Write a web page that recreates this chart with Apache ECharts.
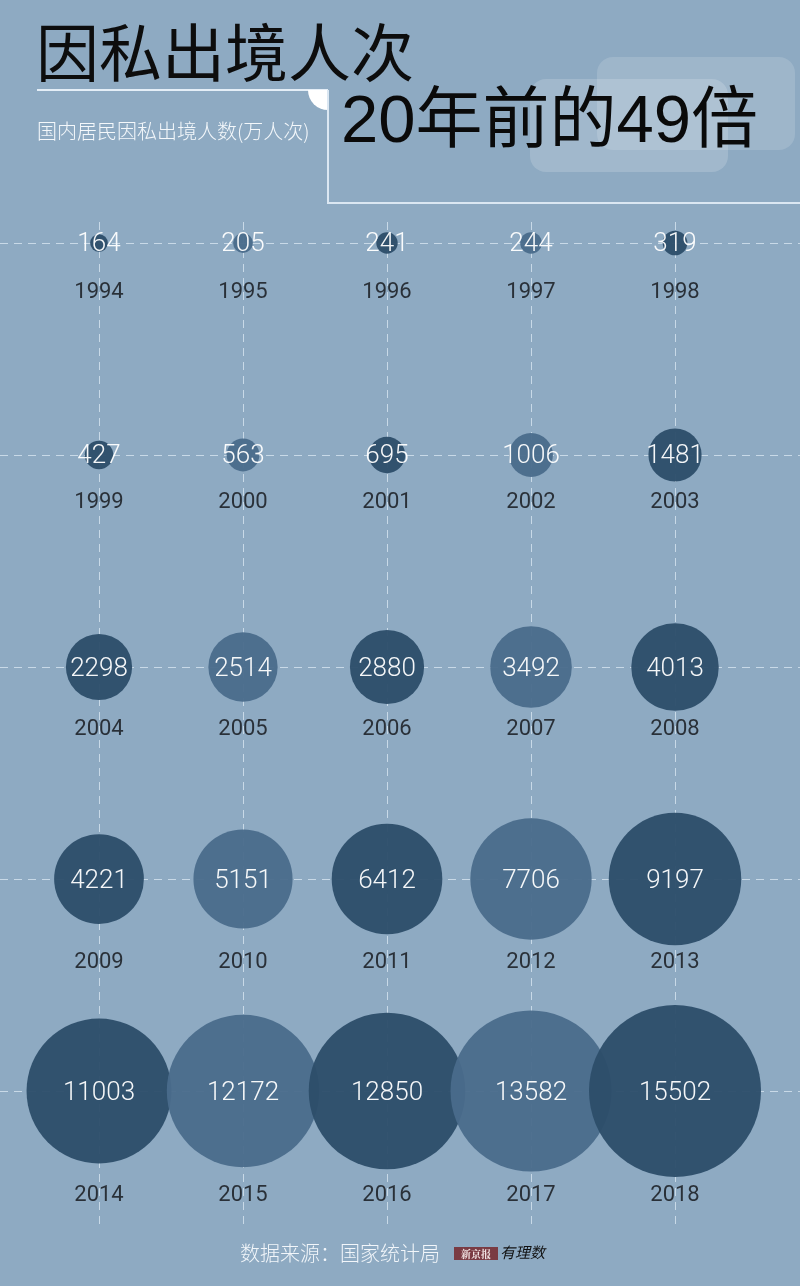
<!DOCTYPE html>
<html><head><meta charset="utf-8">
<script src="https://cdn.jsdelivr.net/npm/echarts@6/dist/echarts.min.js"></script>
<style>html,body{margin:0;padding:0;background:#8eaac2}#c{width:800px;height:1286px}</style>
</head><body><div id="c"></div>
<script>
// ---- data ----
const years = [1994,1995,1996,1997,1998,1999,2000,2001,2002,2003,2004,2005,2006,2007,2008,2009,2010,2011,2012,2013,2014,2015,2016,2017,2018];
const values = [164,205,241,244,319,427,563,695,1006,1481,2298,2514,2880,3492,4013,4221,5151,6412,7706,9197,11003,12172,12850,13582,15502];
const columnCount = 5;
const title = '因私出境人次';
const subtitle = '国内居民因私出境人数(万人次)';
const headline = '20年前的49倍';
const source = '数据来源：国家统计局';

// ---- style ----
const darkColor = '#2c4d69';
const lightColor = '#4a6c8b';
const maxDiameter = 172;
const yearLabelOffset = [50, 48, 62, 83, 104];
const cjk = '"Noto Sans CJK SC", sans-serif';
const num = 'Roboto, "Noto Sans CJK SC", sans-serif';
const head = '"Liberation Sans", "Noto Sans CJK SC", sans-serif';

const maxVal = Math.max(...values);
const rows = Math.ceil(values.length / columnCount);
const bubbleData = values.map((v, i) => {
  const col = i % columnCount, row = Math.floor(i / columnCount);
  return {value: [col, row, v, years[i]], itemStyle: {color: col % 2 === 0 ? darkColor : lightColor}};
});
const yearData = years.map((y, i) => {
  const col = i % columnCount, row = Math.floor(i / columnCount);
  return {value: [col, row, y], label: {offset: [0, yearLabelOffset[row]]}};
});
const vLines = [], hLines = [];
for (let c = 0; c < columnCount; c++) vLines.push({xAxis: c});
for (let r = 0; r < rows; r++) hLines.push({yAxis: r});

const chart = echarts.init(document.getElementById('c'), null, {renderer: 'canvas'});
chart.setOption({
  backgroundColor: '#8eaac2',
  animation: false,
  grid: {left: 0, right: 0, top: 222, bottom: 61},
  xAxis: {type: 'value', min: -0.6875, max: 4.868, show: false},
  yAxis: {type: 'value', inverse: true, min: -0.099, max: 4.632, show: false},
  series: [
    {
      type: 'scatter', data: [], z: 0, silent: true,
      markLine: {
        z: 0, silent: true, symbol: 'none', label: {show: false},
        lineStyle: {color: 'rgba(225,236,246,0.7)', type: [8, 6], width: 1},
        data: vLines.concat(hLines)
      }
    },
    {
      type: 'scatter', z: 2, data: bubbleData,
      symbolSize: d => maxDiameter * Math.sqrt(d[2] / maxVal),
      itemStyle: {opacity: 0.95},
      label: {
        show: true, position: 'inside', color: '#ffffff', offset: [0, 2],
        fontFamily: num, fontWeight: 300, fontSize: 26,
        formatter: p => String(p.value[2])
      }
    },
    {
      type: 'scatter', z: 3, data: yearData, symbolSize: 1,
      itemStyle: {color: 'rgba(0,0,0,0)'},
      label: {
        show: true, position: 'inside', color: '#101215',
        fontFamily: num, fontWeight: 400, fontSize: 22,
        formatter: p => String(p.value[2])
      }
    }
  ],
  graphic: [
    {type: 'rect', shape: {x: 530, y: 79, width: 198, height: 93, r: 16}, style: {fill: 'rgba(255,255,255,0.17)'}, z: 1},
    {type: 'rect', shape: {x: 597, y: 57, width: 198, height: 93, r: 16}, style: {fill: 'rgba(255,255,255,0.14)'}, z: 1},
    {type: 'text', x: 36, y: 52, style: {text: title, font: '400 63px ' + cjk, fill: '#0d0d0d', textVerticalAlign: 'middle'}, z: 5},
    {type: 'line', shape: {x1: 37, y1: 90, x2: 328, y2: 90}, style: {stroke: '#e4eef7', lineWidth: 2}, z: 5},
    {type: 'sector', shape: {cx: 328, cy: 90, r: 20, startAngle: Math.PI / 2, endAngle: Math.PI}, style: {fill: '#ffffff'}, z: 5},
    {type: 'polyline', shape: {points: [[328, 90], [328, 203], [800, 203]]}, style: {stroke: '#dbe7f2', lineWidth: 2, fill: null}, z: 5},
    {type: 'text', x: 37, y: 131, style: {text: subtitle, font: '300 20px ' + cjk, fill: '#f4f8fb', textVerticalAlign: 'middle'}, z: 5},
    {type: 'text', x: 341, y: 124, style: {text: headline, font: '400 67px ' + head, fill: '#0a0a0a', textVerticalAlign: 'middle'}, z: 6},
    {type: 'text', x: 240, y: 1253, style: {text: source, font: '300 20px ' + cjk, fill: '#f2f6fa', textVerticalAlign: 'middle'}, z: 5},
    {type: 'rect', shape: {x: 454, y: 1247, width: 44, height: 13}, style: {fill: '#7a3b43'}, z: 5},
    {type: 'text', x: 476, y: 1254, style: {text: '新京报', font: 'bold 10px "Noto Serif CJK SC", ' + cjk, fill: '#f3e6e6', textAlign: 'center', textVerticalAlign: 'middle'}, z: 6},
    {type: 'text', x: 500, y: 1252, style: {text: '有理数', font: 'italic 15px ' + cjk, fill: '#111111', textVerticalAlign: 'middle'}, z: 6}
  ]
});
</script>
</body></html>
